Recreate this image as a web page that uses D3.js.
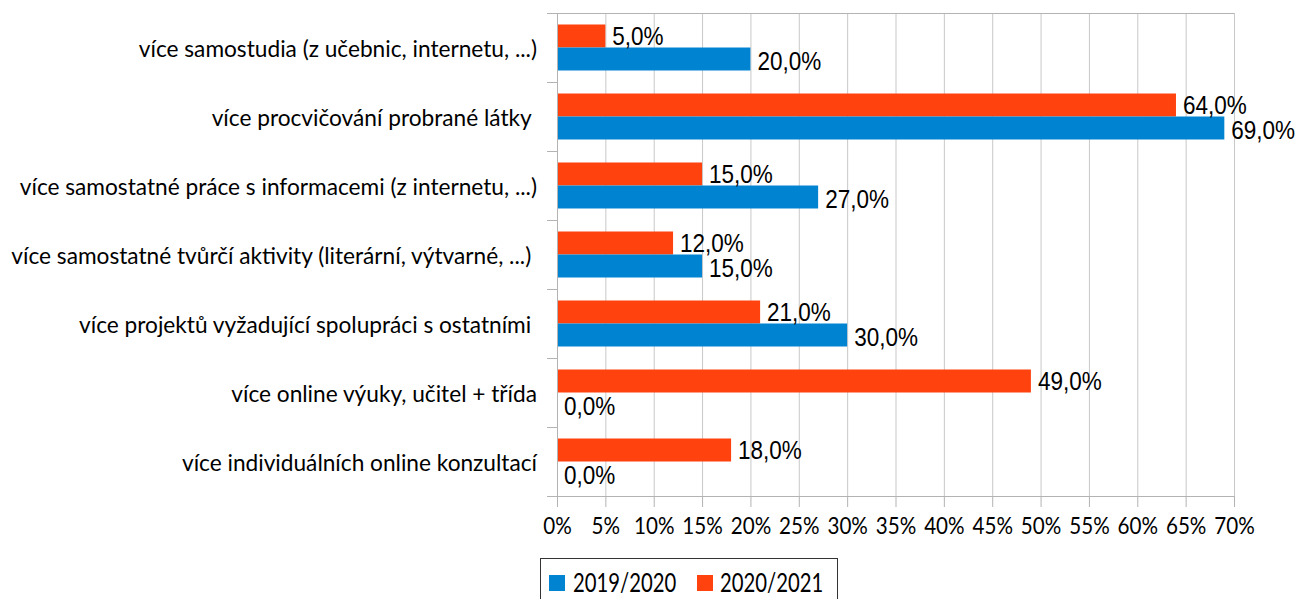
<!DOCTYPE html>
<html>
<head>
<meta charset="utf-8">
<script src="https://cdn.jsdelivr.net/npm/d3@7"></script>
<style>
  body { margin: 0; background: #fff; }
  text { white-space: pre; }
  .grid line { stroke: #c8c8c8; }
  .grid path { display: none; }
  .axis path, .axis line { stroke: #b3b3b3; }
</style>
</head>
<body>
<div id="chart"></div>
<script>
// data
var categories = [
  "více samostudia (z učebnic, internetu, ...)",
  "více procvičování probrané látky ",
  "více samostatné práce s informacemi (z internetu, ...)",
  "více samostatné tvůrčí aktivity (literární, výtvarné, ...) ",
  "více projektů vyžadující spolupráci s ostatními ",
  "více online výuky, učitel + třída",
  "více individuálních online konzultací"
];
var seriesNames = ["2019/2020", "2020/2021"];
var values2019 = [20, 69, 27, 15, 30, 0, 0];
var values2020 = [5, 64, 15, 12, 21, 49, 18];
var xTicks = [0, 5, 10, 15, 20, 25, 30, 35, 40, 45, 50, 55, 60, 65, 70];

var colors = {"2019/2020": "#0084d1", "2020/2021": "#ff420e"};
var labelFont = "Lato, 'Open Sans', sans-serif";
var valueFont = "'Liberation Sans', Arial, sans-serif";

var svgWidth = 1295, svgHeight = 599;
var plot = {left: 557, right: 1234, top: 13, bottom: 496};

var svg = d3.select("#chart").append("svg")
  .attr("width", svgWidth).attr("height", svgHeight);

var x = d3.scaleLinear().domain([0, 70]).range([plot.left, plot.right]);
var y = d3.scaleBand().domain(categories).range([plot.top, plot.bottom]);
// red bar on top, blue below
var ySub = d3.scaleBand().domain(["2020/2021", "2019/2020"])
  .range([0, y.bandwidth()]).paddingInner(0).paddingOuter(0.5);

// vertical gridlines
svg.append("g")
  .attr("class", "grid")
  .attr("transform", `translate(0, ${plot.bottom})`)
  .call(d3.axisBottom(x).tickValues(xTicks.slice(1)).tickSize(-(plot.bottom - plot.top)).tickFormat(""));

// top border line
svg.append("line")
  .attr("x1", plot.left - 10).attr("x2", plot.right)
  .attr("y1", plot.top + 0.5).attr("y2", plot.top + 0.5)
  .attr("stroke", "#b3b3b3");

// bars, two per category
var bars = [];
categories.forEach(function(c, i) {
  bars.push({cat: c, s: "2020/2021", v: values2020[i]});
  bars.push({cat: c, s: "2019/2020", v: values2019[i]});
});

svg.selectAll("rect.bar").data(bars).enter().append("rect")
  .attr("class", "bar")
  .attr("x", x(0))
  .attr("y", d => y(d.cat) + ySub(d.s))
  .attr("width", d => x(d.v) - x(0))
  .attr("height", ySub.bandwidth())
  .attr("fill", d => colors[d.s]);

// value labels (red ones nudged up a bit, blue ones down)
svg.selectAll("text.val").data(bars).enter().append("text")
  .attr("class", "val")
  .attr("transform", function(d) {
    var cy = y(d.cat) + ySub(d.s) + ySub.bandwidth() / 2 + (d.s == "2020/2021" ? 0 : 2);
    return `translate(${x(d.v) + 7}, ${cy}) scale(0.9,1)`;
  })
  .attr("dominant-baseline", "central")
  .attr("font-family", valueFont)
  .attr("font-size", 25)
  .attr("fill", "#000")
  .text(d => d.v.toFixed(1).replace(".", ",") + "%");

// x axis
var xAxis = svg.append("g")
  .attr("class", "axis")
  .attr("transform", `translate(0, ${plot.bottom})`)
  .call(d3.axisBottom(x).tickValues(xTicks).tickSizeInner(11).tickSizeOuter(0).tickFormat(d => d + "%"));
xAxis.select(".domain").attr("d", `M${plot.left - 10},0.5H${plot.right}`);
xAxis.selectAll("text")
  .attr("y", 0).attr("dy", 0)
  .attr("transform", "translate(0, 38) scale(0.86,1)")
  .attr("font-family", labelFont)
  .attr("font-size", 24)
  .attr("fill", "#000");

// y axis with ticks on category boundaries
var yEdge = d3.scaleLinear().domain([0, categories.length]).range([plot.top, plot.bottom]);
var yAxis = svg.append("g")
  .attr("class", "axis")
  .attr("transform", `translate(${plot.left}, 0)`)
  .call(d3.axisLeft(yEdge).tickValues(d3.range(0, categories.length + 1)).tickSizeInner(10).tickSizeOuter(0).tickFormat(""));
yAxis.select(".domain").attr("d", `M0.5,${plot.top}V${plot.bottom + 11}`);

// category labels
svg.selectAll("text.cat").data(categories).enter().append("text")
  .attr("class", "cat")
  .attr("transform", d => `translate(537, ${y(d) + y.bandwidth() / 2}) scale(0.945,1)`)
  .attr("text-anchor", "end")
  .attr("dominant-baseline", "central")
  .attr("font-family", labelFont)
  .attr("font-size", 24)
  .attr("fill", "#000")
  .text(d => d);

// legend
var legend = svg.append("g");
legend.append("rect")
  .attr("x", 540.5).attr("y", 558.5).attr("width", 297).attr("height", 60)
  .attr("fill", "none").attr("stroke", "#333");
var items = [
  {name: seriesNames[0], sx: 549, tx: 573},
  {name: seriesNames[1], sx: 697, tx: 720}
];
items.forEach(function(it) {
  legend.append("rect")
    .attr("x", it.sx).attr("y", 575).attr("width", 16).attr("height", 16)
    .attr("fill", colors[it.name]);
  legend.append("text")
    .attr("transform", `translate(${it.tx}, 592) scale(0.78,1)`)
    .attr("font-family", labelFont)
    .attr("font-size", 26)
    .attr("fill", "#000")
    .text(it.name);
});
</script>
</body>
</html>
